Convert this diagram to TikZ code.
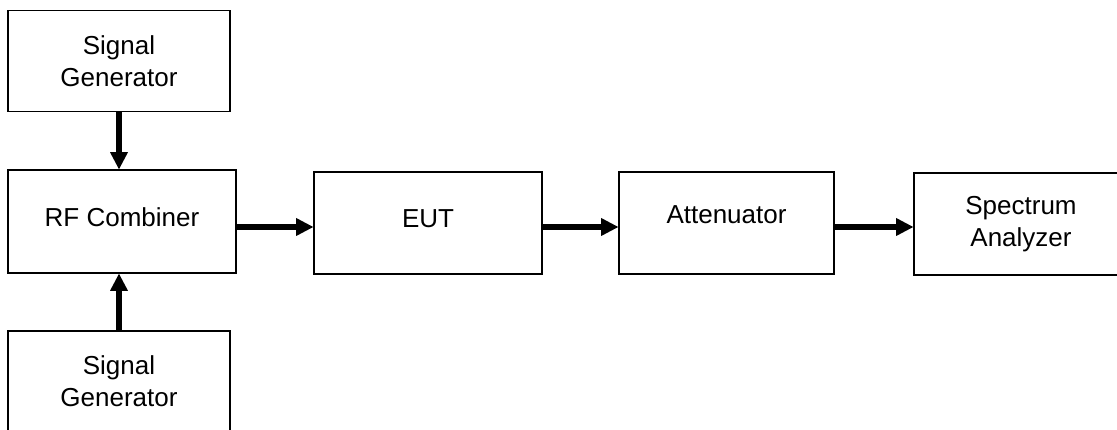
\documentclass[tikz,border=0pt]{standalone}
\usepackage{fontspec}
\setmainfont{Liberation Sans}
\usetikzlibrary{arrows.meta,positioning}

\begin{document}
\begin{tikzpicture}[x=1pt, y=1pt,
    block/.style={rectangle, draw, line width=1.6pt, inner sep=0pt, align=center, font=\fontsize{26}{32}\selectfont},
    link/.style={-{Triangle[width=18pt, length=17pt, line width=0pt]}, line width=6pt}]
    \useasboundingbox (0,0) rectangle (1117,429);
    \clip (0,0) rectangle (1117,429);

    % Signal sources
    \node[block, minimum width=222pt, minimum height=101pt] (gen1) at (119,368) {Signal\\Generator};
    \node[block, minimum width=222pt, minimum height=101pt] (gen2) at (119,47.5) {Signal\\Generator};

    % Measurement chain
    \node[block, minimum width=228pt, minimum height=103pt] (comb) at (122,207.5) {\raisebox{9.5pt}{RF Combiner}};
    \node[block, minimum width=228pt, minimum height=102pt] (eut) at (428,206) {\raisebox{8.5pt}{EUT}};
    \node[block, minimum width=215pt, minimum height=102pt] (att) at (726.5,206) {\raisebox{16.5pt}{Attenuator}};
    \node[block, minimum width=214pt, minimum height=102pt] (spec) at (1021,205) {Spectrum\\Analyzer};

    % Arrows
    \draw[link] (gen1) -- (gen1 |- comb.north);
    \draw[link] (gen2) -- (gen2 |- comb.south);
    \draw[link] ([yshift=-5.5pt]comb.east) -- ([yshift=-5.5pt]comb.east -| eut.west);
    \draw[link] ([yshift=-4pt]eut.east) -- ([yshift=-4pt]eut.east -| att.west);
    \draw[link] ([yshift=-4pt]att.east) -- ([yshift=-4pt]att.east -| spec.west);
\end{tikzpicture}
\end{document}
